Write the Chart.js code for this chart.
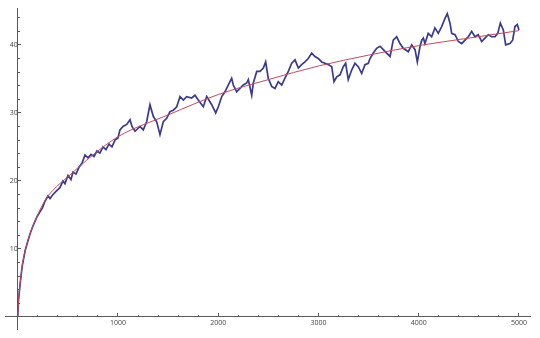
<!DOCTYPE html>
<html lang="en">
<head>
  <meta charset="UTF-8" />
  <title>Random walk vs fit</title>
  <script src="https://cdn.jsdelivr.net/npm/chart.js"></script>
  <style>
    body {
      margin: 0;
      background: #fff;
    }

    #wrap {
      width: 540px;
      height: 338px;
      position: relative;
    }
  </style>
</head>
<body>

<div id="wrap">
  <canvas id="walkChart"></canvas>
</div>

<script>
  // values
  const walkX = [0, 8, 25, 45, 75, 100, 125, 150, 191, 220, 245, 272, 302, 322, 352, 392, 421, 451, 471, 501, 531, 551, 581, 611, 641, 671, 701, 731, 761, 790, 820, 850, 880, 910, 940, 970,
    1000, 1020, 1050, 1087, 1120, 1140, 1170, 1220, 1252, 1286, 1319, 1352, 1386, 1419, 1452, 1486, 1519, 1552, 1586, 1619, 1652, 1685, 1735, 1768, 1801, 1851, 1885, 1935, 1975,
    2001, 2035, 2067, 2100, 2134, 2150, 2184, 2217, 2250, 2284, 2300, 2334, 2350, 2384, 2416, 2450, 2473, 2499, 2533, 2566, 2599, 2633, 2666, 2699, 2733, 2766, 2799, 2832, 2865, 2898, 2932, 2965,
    2998, 3032, 3065, 3098, 3132, 3155, 3182, 3215, 3247, 3271, 3297, 3331, 3364, 3397, 3431, 3464, 3497, 3514, 3547, 3580, 3614, 3647, 3680, 3714, 3746, 3780, 3813, 3846, 3896, 3930, 3963, 3986,
    4013, 4030, 4046, 4062, 4095, 4129, 4162, 4195, 4229, 4262, 4285, 4312, 4329, 4362, 4395, 4429, 4461, 4495, 4528, 4561, 4594, 4628, 4661, 4694, 4728, 4761, 4788, 4814, 4844, 4867, 4910, 4937, 4960, 4983, 5000];
  const walkY = [0, 2.5, 5, 7.5, 9.8, 11.1, 12.3, 13.3, 14.7, 15.4, 16.0, 17.0, 17.8, 17.4, 18.0, 18.6, 19.0, 20.0, 19.6, 20.8, 20.2, 21.3, 21.0, 22.0, 22.6, 23.8, 23.4, 23.9, 23.6, 24.4, 24.1, 25.0, 24.6, 25.4, 25.0, 26.0,
    26.3, 27.5, 28.0, 28.3, 29.0, 28.0, 27.3, 28.0, 27.5, 28.7, 31.2, 29.5, 28.7, 26.8, 28.7, 29.2, 30.2, 30.4, 30.9, 32.4, 31.9, 32.4, 32.2, 32.6, 31.9, 30.9, 32.4, 31.2, 30.0,
    30.9, 32.4, 33.1, 34.1, 35.1, 34.1, 33.1, 33.6, 34.1, 34.4, 34.9, 32.6, 34.4, 36.1, 36.1, 36.6, 37.5, 35.1, 33.9, 33.6, 34.6, 34.1, 35.1, 36.1, 37.3, 37.8, 36.6, 37.1, 37.5, 38.0, 38.8, 38.3,
    38.0, 37.5, 37.3, 37.1, 36.8, 34.6, 35.3, 35.6, 36.8, 37.3, 34.9, 36.3, 37.3, 36.8, 35.8, 37.1, 37.3, 38.0, 38.8, 39.5, 39.8, 39.3, 38.8, 38.3, 40.7, 41.2, 40.2, 39.5, 39.0, 40.0, 39.3, 37.5,
    39.8, 40.7, 41.0, 40.2, 41.7, 41.2, 42.5, 41.7, 42.7, 43.9, 44.6, 43.2, 41.7, 41.5, 40.5, 40.2, 40.7, 41.2, 42.0, 41.2, 41.5, 40.5, 41.0, 41.5, 41.2, 41.2, 41.7, 43.2, 42.2, 40.0, 40.2, 40.7, 42.7, 43.0, 42.2];

  const fitX = [0, 8, 25, 45, 75, 125, 190, 275, 350, 500, 750, 1000, 1500, 2000, 2500, 3000, 3500, 4000, 4500, 5000];
  const fitY = [0, 2.5, 5, 7.5, 9.8, 12.3, 14.7, 17.2, 18.6, 20.6, 23.8, 26.5, 29.7, 32.7, 34.9, 36.9, 38.5, 39.9, 41.0, 42.1];

  const xMajor = [1000, 2000, 3000, 4000, 5000];
  const xMinor = [200, 400, 600, 800, 1200, 1400, 1600, 1800, 2200, 2400, 2600, 2800, 3200, 3400, 3600, 3800, 4200, 4400, 4600, 4800];
  const yMajor = [10, 20, 30, 40];
  const yMinor = [2, 4, 6, 8, 12, 14, 16, 18, 22, 24, 26, 28, 32, 34, 36, 38, 42, 44];

  const axisColor = "#5a5a5a";
  const labelFont = { family: "'Open Sans', sans-serif", size: 7 };

  function pairs(xs, ys) {
    return xs.map((x, i) => ({ x: x, y: ys[i] }));
  }

  function setTicks(values) {
    return function (scale) {
      scale.ticks = values.map(v => ({ value: v }));
    };
  }

  const noLabels = { display: false };
  const plainLabel = v => String(v);

  new Chart(document.getElementById("walkChart").getContext("2d"), {
    type: "line",
    data: {
      datasets: [
        {
          label: "fit",
          data: pairs(fitX, fitY),
          borderColor: "#c24a5c",
          borderWidth: 1,
          pointRadius: 0,
          cubicInterpolationMode: "monotone",
          xAxisID: "x",
          yAxisID: "y"
        },
        {
          label: "walk",
          data: pairs(walkX, walkY),
          borderColor: "#3a3a8e",
          borderWidth: 1.7,
          pointRadius: 0,
          tension: 0,
          xAxisID: "x",
          yAxisID: "y"
        }
      ]
    },
    options: {
      responsive: true,
      maintainAspectRatio: false,
      animation: false,
      layout: { padding: { left: 5, right: 10, top: 8, bottom: 8 } },
      plugins: {
        legend: { display: false },
        tooltip: { enabled: false }
      },
      scales: {
        x: {
          type: "linear",
          min: -127,
          max: 5110,
          position: { y: 0 },
          afterFit: s => { s.height = 0; },
          afterBuildTicks: setTicks(xMajor),
          grid: { drawOnChartArea: false, tickLength: -4, tickColor: axisColor },
          border: { color: axisColor, width: 1 },
          ticks: { autoSkip: false, maxRotation: 0, padding: 6, color: "#444", font: labelFont, callback: plainLabel }
        },
        x2: {
          type: "linear",
          min: -127,
          max: 5110,
          position: { y: 0 },
          afterFit: s => { s.height = 0; },
          afterBuildTicks: setTicks(xMinor),
          grid: { drawOnChartArea: false, tickLength: -2, tickColor: axisColor },
          border: { display: false },
          ticks: noLabels
        },
        y: {
          type: "linear",
          min: -1.9,
          max: 45.4,
          position: { x: 0 },
          afterFit: s => { s.width = 0; },
          afterBuildTicks: setTicks(yMajor),
          grid: { drawOnChartArea: false, tickLength: -4, tickColor: axisColor },
          border: { color: axisColor, width: 1 },
          ticks: { autoSkip: false, padding: 4, color: "#444", font: labelFont, callback: plainLabel }
        },
        y2: {
          type: "linear",
          min: -1.9,
          max: 45.4,
          position: { x: 0 },
          afterFit: s => { s.width = 0; },
          afterBuildTicks: setTicks(yMinor),
          grid: { drawOnChartArea: false, tickLength: -2, tickColor: axisColor },
          border: { display: false },
          ticks: noLabels
        }
      }
    }
  });
</script>

</body>
</html>
